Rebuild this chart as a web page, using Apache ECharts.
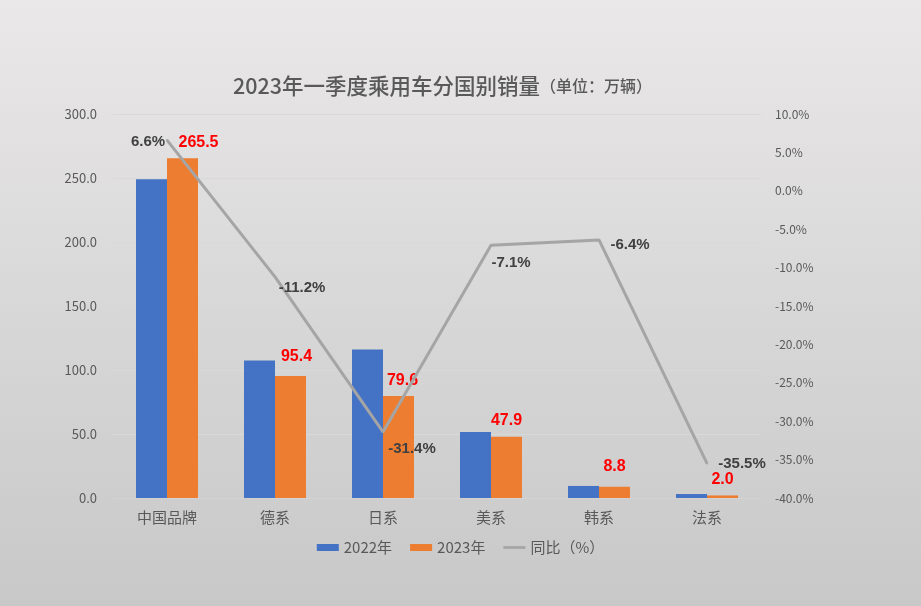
<!DOCTYPE html>
<html>
<head>
<meta charset="utf-8">
<script src="https://cdn.jsdelivr.net/npm/echarts@6/dist/echarts.min.js"></script>
<style>html,body{margin:0;padding:0;}#c{width:921px;height:606px;}</style>
</head>
<body>
<div id="c"></div>
<script>
const categories = ['中国品牌', '德系', '日系', '美系', '韩系', '法系'];
const sales2022 = [249.1, 107.4, 116.0, 51.6, 9.4, 3.1];
const sales2023 = [265.5, 95.4, 79.6, 47.9, 8.8, 2.0];
const yoy = [6.6, -11.2, -31.4, -7.1, -6.4, -35.5];
const leftTicks = { min: 0, max: 300, interval: 50 };
const rightTicks = { min: -40, max: 10, interval: 5 };

// label placement (styling only)
const barLabelOffsets = [[16, 0], [6, -3], [4, 0], [0, 0], [0, -4], [0, 0]];
const lineLabelOffsets = [[-19, 2], [27, 11], [29, 17], [20, 18], [31, 5], [35, 0]];

const FONT = '"Noto Sans CJK SC", "Noto Sans", sans-serif';
const chart = echarts.init(document.getElementById('c'));
chart.setOption({
  backgroundColor: {
    type: 'linear', x: 0, y: 0, x2: 0, y2: 1,
    colorStops: [{ offset: 0, color: '#eae8e9' }, { offset: 1, color: '#c8c8c8' }]
  },
  textStyle: { fontFamily: FONT },
  title: {
    text: '{a|2023年一季度乘用车分国别销量}{b|（单位：万辆）}',
    left: 228, top: 70,
    textStyle: {
      fontWeight: 'normal',
      rich: {
        a: { fontSize: 21.5, color: '#595959', fontFamily: FONT, fontWeight: 500 },
        b: { fontSize: 16, color: '#595959', fontFamily: FONT, fontWeight: 500 }
      }
    }
  },
  legend: {
    bottom: 46, left: 'center',
    itemWidth: 22, itemHeight: 7, itemGap: 18,
    textStyle: { fontSize: 15, color: '#595959', fontFamily: FONT },
    data: [
      { name: '2022年', icon: 'rect' },
      { name: '2023年', icon: 'rect' },
      { name: '同比（%）', icon: 'path://M0,0H24V3H0Z' }
    ]
  },
  grid: { left: 113, right: 160, top: 114, bottom: 108 },
  xAxis: {
    type: 'category', data: categories,
    axisLine: { lineStyle: { color: '#d3d3d3', width: 1 } },
    axisTick: { show: false },
    axisLabel: { fontSize: 15, color: '#595959', margin: 12, fontFamily: FONT }
  },
  yAxis: [
    {
      type: 'value', min: leftTicks.min, max: leftTicks.max, interval: leftTicks.interval,
      axisLine: { show: false }, axisTick: { show: false },
      axisLabel: { fontSize: 13, color: '#595959', margin: 16, formatter: v => v.toFixed(1) },
      splitLine: { lineStyle: { color: '#d9d9d9', width: 1 } }
    },
    {
      type: 'value', min: rightTicks.min, max: rightTicks.max, interval: rightTicks.interval,
      axisLine: { show: false }, axisTick: { show: false },
      axisLabel: { fontSize: 12, color: '#595959', margin: 14, formatter: v => v.toFixed(1) + '%' },
      splitLine: { show: false }
    }
  ],
  series: [
    {
      name: '2022年', type: 'bar', data: sales2022,
      barWidth: 31, barGap: '0%',
      itemStyle: { color: '#4472c4' }
    },
    {
      name: '2023年', type: 'bar', data: sales2023.map((v, i) => ({
        value: v, label: { offset: barLabelOffsets[i] }
      })),
      barWidth: 31, barGap: '0%',
      itemStyle: { color: '#ed7d31' },
      label: {
        show: true, position: 'top', distance: 8,
        fontSize: 16, fontWeight: 'bold', color: '#ff0000',
        fontFamily: 'Liberation Sans, Arial, sans-serif',
        formatter: p => p.value.toFixed(1)
      }
    },
    {
      name: '同比（%）', type: 'line', yAxisIndex: 1,
      data: yoy.map((v, i) => ({ value: v, label: { offset: lineLabelOffsets[i] } })),
      symbol: 'circle', symbolSize: 2,
      itemStyle: { color: '#a5a5a5' },
      lineStyle: { color: '#a5a5a5', width: 3 },
      label: {
        show: true, position: 'inside',
        fontSize: 15, fontWeight: 'bold', color: '#404040',
        fontFamily: 'Liberation Sans, Arial, sans-serif',
        formatter: p => p.value.toFixed(1) + '%'
      },
      z: 5
    }
  ]
});
</script>
</body>
</html>
